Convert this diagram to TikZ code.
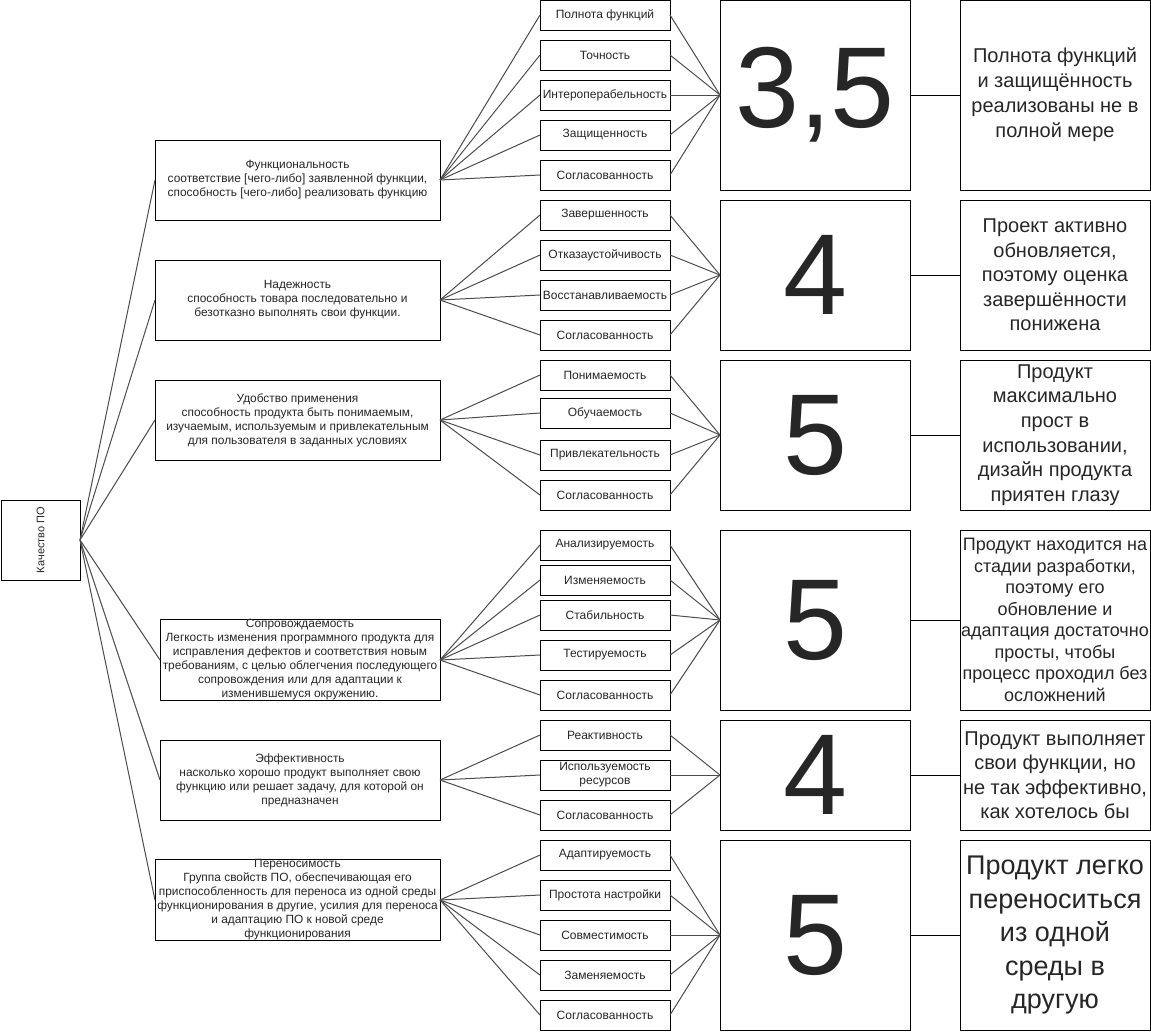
\documentclass[tikz,border=0pt]{standalone}
\usepackage{fontspec}
\setmainfont{Liberation Sans}
\begin{document}
\begin{tikzpicture}[x=1pt,y=1pt,
  every node/.style={inner sep=0pt, outer sep=0pt, align=center, text=black!85},
  rootbox/.style={draw=black, line width=1pt, minimum width=79pt, minimum height=80pt},
  catbox/.style={draw=black, line width=1pt, minimum height=80pt, font=\fontsize{11.9}{14}\selectfont},
  subbox/.style={draw=black, line width=1pt, minimum width=130pt, minimum height=30pt, font=\fontsize{12}{14}\selectfont},
  scorebox/.style={draw=black, line width=1pt, minimum width=190pt, font=\fontsize{115}{120}\selectfont},
  combox/.style={draw=black, line width=1pt, minimum width=190pt},
  link/.style={draw=black!70, line width=1pt},
  sublink/.style={draw=black!70, line width=1pt},
  scorelink/.style={draw=black, line width=1pt}
]
\useasboundingbox (0,0) rectangle (1151,-1031);
% root
\node[rootbox] (root) at (40.5,-540) {};
\node[rotate=90, font=\fontsize{11}{13}\selectfont] (roottext) at (root.center) {Качество ПО};
% categories
\node[catbox, minimum width=285pt] (c1) at (297.5,-180) {Функциональность\\соответствие [чего-либо] заявленной функции,\\способность [чего-либо] реализовать функцию};
\node[catbox, minimum width=285pt] (c2) at (297.5,-300) {Надежность\\способность товара последовательно и\\безотказно выполнять свои функции.};
\node[catbox, minimum width=285pt] (c3) at (297.5,-420) {Удобство применения\\способность продукта быть понимаемым,\\изучаемым, используемым и привлекательным\\для пользователя в заданных условиях};
\node[catbox, minimum width=280pt] (c4) at (300,-660) {Сопровождаемость\\Легкость изменения программного продукта для\\исправления дефектов и соответствия новым\\требованиям, с целью облегчения последующего\\сопровождения или для адаптации к\\изменившемуся окружению.};
\node[catbox, minimum width=280pt] (c5) at (300,-780) {Эффективность\\насколько хорошо продукт выполняет свою\\функцию или решает задачу, для которой он\\предназначен};
\node[catbox, minimum width=285pt] (c6) at (297.5,-900) {Переносимость\\Группа свойств ПО, обеспечивающая его\\приспособленность для переноса из одной среды\\функционирования в другие, усилия для переноса\\и адаптацию ПО к новой среде\\функционирования};
\foreach \c in {c1,c2,c3,c4,c5,c6} \draw[link] (root.east) -- (\c.west);
% sub-items
\node[subbox] (s11) at (605,-15) {Полнота функций};
\node[subbox] (s12) at (605,-55) {Точность};
\node[subbox] (s13) at (605,-95) {Интероперабельность};
\node[subbox] (s14) at (605,-135) {Защищенность};
\node[subbox] (s15) at (605,-175) {Согласованность};
\node[subbox] (s21) at (605,-215) {Завершенность};
\node[subbox] (s22) at (605,-255) {Отказаустойчивость};
\node[subbox] (s23) at (605,-295) {Восстанавливаемость};
\node[subbox] (s24) at (605,-335) {Согласованность};
\node[subbox] (s31) at (605,-375) {Понимаемость};
\node[subbox] (s32) at (605,-413) {Обучаемость};
\node[subbox] (s33) at (605,-455) {Привлекательность};
\node[subbox] (s34) at (605,-495) {Согласованность};
\node[subbox] (s41) at (605,-545) {Анализируемость};
\node[subbox] (s42) at (605,-580) {Изменяемость};
\node[subbox] (s43) at (605,-615) {Стабильность};
\node[subbox] (s44) at (605,-655) {Тестируемость};
\node[subbox] (s45) at (605,-695) {Согласованность};
\node[subbox] (s51) at (605,-735) {Реактивность};
\node[subbox] (s52) at (605,-775) {Используемость\\ресурсов};
\node[subbox] (s53) at (605,-815) {Согласованность};
\node[subbox] (s61) at (605,-855) {Адаптируемость};
\node[subbox] (s62) at (605,-895) {Простота настройки};
\node[subbox] (s63) at (605,-935) {Совместимость};
\node[subbox] (s64) at (605,-975) {Заменяемость};
\node[subbox] (s65) at (605,-1015) {Согласованность};
% scores
\node[scorebox, minimum height=190pt] (p1) at (815,-95) {3,5};
\node[scorebox, minimum height=150pt] (p2) at (815,-275) {4};
\node[scorebox, minimum height=150pt] (p3) at (815,-435) {5};
\node[scorebox, minimum height=180pt] (p4) at (815,-620) {5};
\node[scorebox, minimum height=110pt] (p5) at (815,-775) {4};
\node[scorebox, minimum height=190pt] (p6) at (815,-935) {5};
% comments
\node[combox, minimum height=190pt, font=\fontsize{20}{25}\selectfont] (m1) at (1055,-95) {Полнота функций\\и защищённость\\реализованы не в\\полной мере};
\node[combox, minimum height=150pt, font=\fontsize{20}{24.5}\selectfont] (m2) at (1055,-275) {Проект активно\\обновляется,\\поэтому оценка\\завершённости\\понижена};
\node[combox, minimum height=150pt, font=\fontsize{20}{24.7}\selectfont] (m3) at (1055,-435) {Продукт\\максимально\\прост в\\использовании,\\дизайн продукта\\приятен глазу};
\node[combox, minimum height=180pt, font=\fontsize{18}{21.5}\selectfont] (m4) at (1055,-620) {Продукт находится на\\стадии разработки,\\поэтому его\\обновление и\\адаптация достаточно\\просты, чтобы\\процесс проходил без\\осложнений};
\node[combox, minimum height=110pt, font=\fontsize{20}{24.5}\selectfont] (m5) at (1055,-775) {Продукт выполняет\\свои функции, но\\не так эффективно,\\как хотелось бы};
\node[combox, minimum height=190pt, font=\fontsize{27}{33.5}\selectfont] (m6) at (1055,-935) {Продукт легко\\переноситься\\из одной\\среды в\\другую};
% links category -> sub-items -> score
\foreach \s in {s11,s12,s13,s14,s15} {\draw[sublink] (c1.east) -- (\s.west); \draw[sublink] (\s.east) -- (p1.west);}
\foreach \s in {s21,s22,s23,s24} {\draw[sublink] (c2.east) -- (\s.west); \draw[sublink] (\s.east) -- (p2.west);}
\foreach \s in {s31,s32,s33,s34} {\draw[sublink] (c3.east) -- (\s.west); \draw[sublink] (\s.east) -- (p3.west);}
\foreach \s in {s41,s42,s43,s44,s45} {\draw[sublink] (c4.east) -- (\s.west); \draw[sublink] (\s.east) -- (p4.west);}
\foreach \s in {s51,s52,s53} {\draw[sublink] (c5.east) -- (\s.west); \draw[sublink] (\s.east) -- (p5.west);}
\foreach \s in {s61,s62,s63,s64,s65} {\draw[sublink] (c6.east) -- (\s.west); \draw[sublink] (\s.east) -- (p6.west);}
% score -> comment
\foreach \i in {1,...,6} \draw[scorelink] (p\i.east) -- (m\i.west);
\end{tikzpicture}
\end{document}
